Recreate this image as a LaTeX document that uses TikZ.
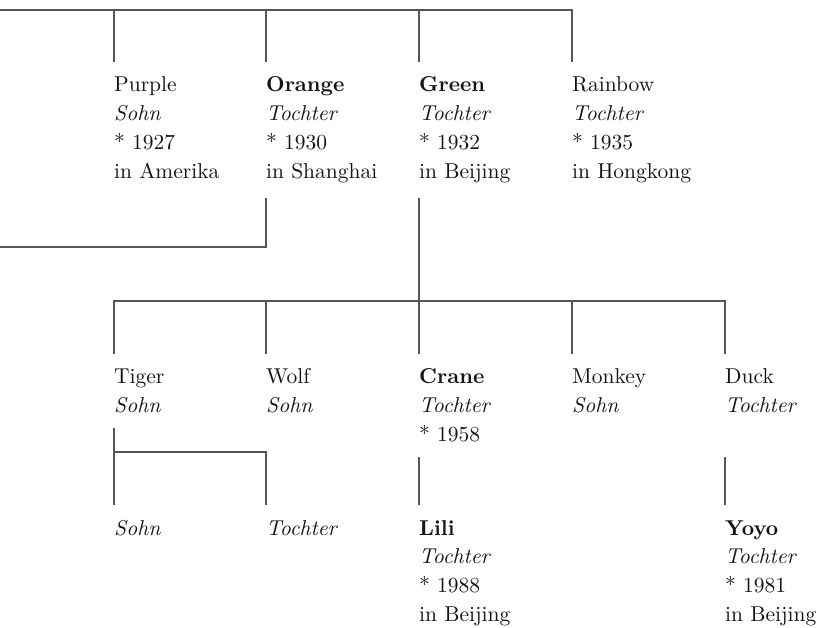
\documentclass[tikz,border=0pt]{standalone}
\usepackage{fontspec}
\setmainfont{lmroman10-regular.otf}[BoldFont=lmroman10-bold.otf,
  ItalicFont=lmroman10-italic.otf]
\usepackage{xcolor}
\definecolor{treeline}{RGB}{85,85,85}
\definecolor{treetext}{RGB}{20,20,20}
\usetikzlibrary{positioning}

\begin{document}
\begin{tikzpicture}[x=1pt, y=-1pt,
  person/.style={anchor=base west, inner xsep=0pt, inner ysep=15pt,
    text width=150pt, align=left, text=treetext,
    font=\fontsize{21.5}{28.7}\selectfont},
  link/.style={draw=treeline, line width=1.2pt}]

\useasboundingbox (0,0) rectangle (820,628);

% Generation 1
\node[person] (purple)  at (114,92) {Purple\\\textit{Sohn}\\{*} 1927\\in Amerika};
\node[person] (orange)  at (266,92) {\textbf{Orange}\\\textit{Tochter}\\{*} 1930\\in Shanghai};
\node[person] (green)   at (419,92) {\textbf{Green}\\\textit{Tochter}\\{*} 1932\\in Beijing};
\node[person] (rainbow) at (572,92) {Rainbow\\\textit{Tochter}\\{*} 1935\\in Hongkong};

% Generation 2
\node[person] (tiger)  at (114,384) {Tiger\\\textit{Sohn}};
\node[person] (wolf)   at (266,384) {Wolf\\\textit{Sohn}};
\node[person] (crane)  at (419,384) {\textbf{Crane}\\\textit{Tochter}\\{*} 1958};
\node[person] (monkey) at (572,384) {Monkey\\\textit{Sohn}};
\node[person] (duck)   at (725,384) {Duck\\\textit{Tochter}};

% Generation 3
\node[person] (tigerson)      at (114,535) {\textit{Sohn}};
\node[person] (tigerdaughter) at (266,535) {\textit{Tochter}};
\node[person] (lili)          at (419,535) {\textbf{Lili}\\\textit{Tochter}\\{*} 1988\\in Beijing};
\node[person] (yoyo)          at (725,535) {\textbf{Yoyo}\\\textit{Tochter}\\{*} 1981\\in Beijing};

% Junctions
\coordinate (topbar) at (0,10);
\coordinate (leftend) at (0,247);
\coordinate (kids) at (419,301);
\coordinate (tigerbar) at (114,452);

% Lines
\draw[link] (topbar) -| (rainbow.north west);
\foreach \n in {purple,orange,green}
  \draw[link] (\n.north west |- topbar) -- (\n.north west);
\draw[link] (orange.south west) |- (leftend);
\draw[link] (green.south west) -- (kids);
\draw[link] (tiger.north west) |- (duck.north west |- kids) -- (duck.north west);
\foreach \n in {wolf,crane,monkey}
  \draw[link] (\n.north west |- kids) -- (\n.north west);
\draw[link] (tiger.south west) -- (tigerson.north west);
\draw[link] (tigerbar) -| (tigerdaughter.north west);
\draw[link] (crane.south west) -- (lili.north west);
\draw[link] (yoyo.north west |- crane.south west) -- (yoyo.north west);

\end{tikzpicture}
\end{document}
